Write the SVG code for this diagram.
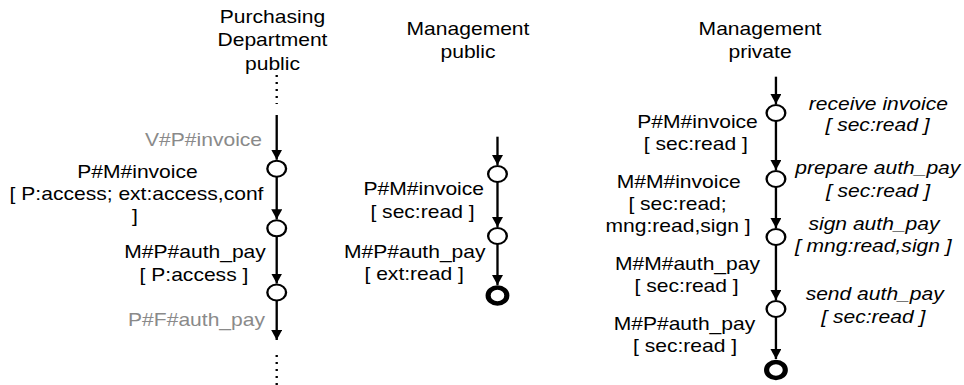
<svg xmlns="http://www.w3.org/2000/svg" width="964" height="385" viewBox="0 0 964 385">
<style>
text{font-family:"Liberation Sans",Arial,sans-serif;font-size:18px;fill:#000;text-anchor:middle}
.g{fill:#8a8a8a;text-anchor:end}
.it{font-style:italic}
.st{fill:#fff;stroke:#000;stroke-width:2}
.en{fill:#fff;stroke:#000;stroke-width:4.4}
.ln{stroke:#000;stroke-width:2;fill:none}
.ar{marker-end:url(#ah)}
.dt{stroke:#000;stroke-width:2;stroke-dasharray:2 5;fill:none}
</style>
<defs>
<marker id="ah" viewBox="0 0 10 9.4" refX="10" refY="4.7" markerWidth="10" markerHeight="9.4" markerUnits="userSpaceOnUse" orient="auto">
<path d="M0,0 L10,4.7 L0,9.4 z" fill="#000"/>
</marker>
</defs>
<rect width="964" height="385" fill="#fff"/>
<g transform="scale(1.17 1)">
<g id="titles">
<text x="232.9" y="22.7">Purchasing</text>
<text x="232.9" y="46.5">Department</text>
<text x="232.9" y="70">public</text>
<text x="400" y="35">Management</text>
<text x="400" y="58.5">public</text>
<text x="649.6" y="35">Management</text>
<text x="649.6" y="58.5">private</text>
</g>
<g id="connectors">
<line class="dt" x1="236.5" y1="75" x2="236.5" y2="104"/>
<line class="ln ar" x1="236.5" y1="115" x2="236.5" y2="159.7"/>
<line class="ln ar" x1="236.5" y1="176.7" x2="236.5" y2="219.3"/>
<line class="ln ar" x1="236.5" y1="236.3" x2="236.5" y2="283.5"/>
<line class="ln ar" x1="236.5" y1="300.5" x2="236.5" y2="340"/>
<line class="dt" x1="236.5" y1="355" x2="236.5" y2="385"/>
<line class="ln ar" x1="425.2" y1="136.7" x2="425.2" y2="165"/>
<line class="ln ar" x1="425.2" y1="182" x2="425.2" y2="227"/>
<line class="ln ar" x1="425.2" y1="244" x2="425.2" y2="285"/>
<line class="ln ar" x1="663.2" y1="76.7" x2="663.2" y2="104"/>
<line class="ln ar" x1="663.2" y1="121" x2="663.2" y2="170"/>
<line class="ln ar" x1="663.2" y1="187" x2="663.2" y2="228"/>
<line class="ln ar" x1="663.2" y1="245" x2="663.2" y2="300"/>
<line class="ln ar" x1="663.2" y1="317" x2="663.2" y2="359"/>
</g>
<g id="pd-s1"><circle class="st" cx="236.5" cy="168.7" r="8"/></g>
<g id="pd-s2"><circle class="st" cx="236.5" cy="228.3" r="8"/></g>
<g id="pd-s3"><circle class="st" cx="236.5" cy="292.5" r="8"/></g>
<g id="mp-s1"><circle class="st" cx="425.2" cy="174" r="8"/></g>
<g id="mp-s2"><circle class="st" cx="425.2" cy="236" r="8"/></g>
<g id="mp-end"><circle class="en" cx="425.2" cy="295.5" r="8"/></g>
<g id="mv-s1"><circle class="st" cx="663.2" cy="113" r="8"/></g>
<g id="mv-s2"><circle class="st" cx="663.2" cy="179" r="8"/></g>
<g id="mv-s3"><circle class="st" cx="663.2" cy="237" r="8"/></g>
<g id="mv-s4"><circle class="st" cx="663.2" cy="309" r="8"/></g>
<g id="mv-end"><circle class="en" cx="663.2" cy="370" r="8"/></g>
<g id="labels">
<text class="g" x="224" y="146">V#P#invoice</text>
<text x="117.5" y="178">P#M#invoice</text>
<text x="116.7" y="200">[ P:access; ext:access,conf</text>
<text x="115.4" y="222.5">]</text>
<text x="166.7" y="258.5">M#P#auth_pay</text>
<text x="165.8" y="281">[ P:access ]</text>
<text class="g" x="226.5" y="326.5">P#F#auth_pay</text>
<text x="362.2" y="195">P#M#invoice</text>
<text x="361.1" y="218">[ sec:read ]</text>
<text x="354.5" y="258">M#P#auth_pay</text>
<text x="354" y="280">[ ext:read ]</text>
<text x="596.2" y="128">P#M#invoice</text>
<text x="594.7" y="150">[ sec:read ]</text>
<text x="580.1" y="188">M#M#invoice</text>
<text x="579.1" y="210">[ sec:read;</text>
<text x="579.5" y="232">mng:read,sign ]</text>
<text x="587.6" y="270">M#M#auth_pay</text>
<text x="586.9" y="292">[ sec:read ]</text>
<text x="585" y="330">M#P#auth_pay</text>
<text x="585.5" y="352">[ sec:read ]</text>
<text class="it" x="750.7" y="110">receive invoice</text>
<text class="it" x="750" y="131">[ sec:read ]</text>
<text class="it" x="750.3" y="174.5">prepare auth_pay</text>
<text class="it" x="750.4" y="197">[ sec:read ]</text>
<text class="it" x="747" y="230">sign auth_pay</text>
<text class="it" x="746.4" y="252">[ mng:read,sign ]</text>
<text class="it" x="747.6" y="300">send auth_pay</text>
<text class="it" x="746.4" y="323">[ sec:read ]</text>
</g>
</g>
</svg>
